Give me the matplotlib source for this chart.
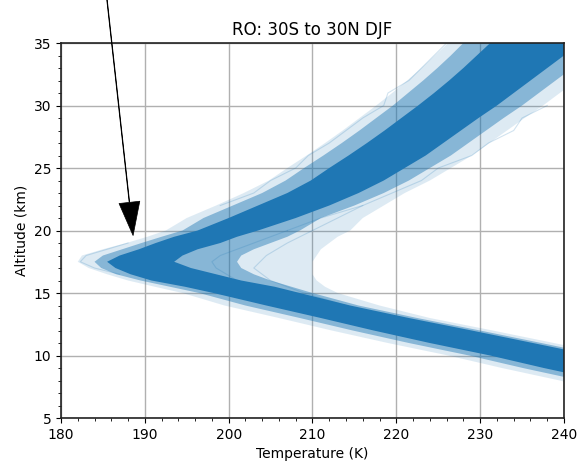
import matplotlib
matplotlib.use("Agg")
import matplotlib.pyplot as plt
from matplotlib.ticker import MultipleLocator

# altitude levels (km) and the temperature envelope of the RO profiles (K)
alt_km = [5, 6, 7, 8, 9, 10, 11, 12, 13, 14, 15, 15.5, 16, 16.5, 17, 17.5, 18, 18.5,
          19, 19.5, 20, 21, 22, 23, 24, 25, 26, 27, 28, 29, 30, 31, 32, 33, 34, 35]

faint_cold = [257, 251, 245.5, 239.5, 232.6, 226.2, 219, 212.3, 206, 199.5, 194.5, 191.2,
              188, 185.5, 183.3, 182, 182.5, 185, 187.8, 190.3, 192.5, 195, 198.5, 201.8,
              204.8, 207, 209.3, 211.5, 213.6, 215.6, 217.6, 219.5, 221.3, 223, 224.6, 226.2]
mid_cold = [259.5, 253.5, 248, 242, 235.1, 228.7, 221.5, 214.8, 208.5, 202, 196.5, 193,
            189.5, 186.6, 184.8, 184, 185, 187.3, 189.6, 192, 194.5, 197, 200.5, 204,
            206.8, 209, 211.3, 213.5, 215.6, 217.6, 219.6, 221.4, 223.2, 224.9, 226.5, 228]
dense_cold = [262, 256, 250.5, 244.5, 237.6, 231.2, 224, 217.3, 211, 204.5, 198.2, 194.8,
              190.8, 188.3, 186.5, 185.5, 187, 189.3, 191.3, 193.5, 196.3, 200, 203.5, 207,
              209.8, 212, 214.3, 216.5, 218.6, 220.6, 222.6, 224.5, 226.3, 228, 229.6, 231.2]
dense_warm = [275, 269, 262, 255, 248, 243.5, 236.3, 229, 221.5, 214.5, 208.5, 205.5,
              201.5, 198.5, 195.5, 193.5, 194.5, 196.3, 199, 201, 203.5, 208, 212, 215.5,
              218.5, 221, 223.5, 225.6, 227.7, 229.8, 232, 234, 236, 238, 240, 242]
mid_warm = [276, 270, 263, 256, 249, 244.5, 237.3, 230, 222.5, 215.5, 210, 207.5,
            205, 203, 201.5, 201, 201.5, 203, 205, 207, 208.5, 211, 215, 218.5,
            221.5, 224, 226.5, 228.6, 230.7, 232.8, 235, 237, 239, 241, 243, 245]
faint_warm = [277.5, 271.5, 264.5, 257.5, 250.5, 246, 238.8, 231.5, 224, 218, 213, 211.5,
              210.5, 210, 210, 210, 210.5, 211, 212, 213, 214.5, 216, 218.5, 221,
              224, 226.5, 229, 231.1, 233.2, 235.3, 237.5, 239.5, 241.5, 243.5, 245.5, 247.5]

# a few individual outlying profiles that stand out from the envelope
stray_alt = [
    [14, 15, 16, 17, 18, 19, 20, 21, 22],
    [15, 16, 17, 17.5, 18, 19, 20],
    [20, 21, 22, 23, 24, 25, 26, 27, 28, 29, 30],
    [22, 23, 24, 25, 26, 27, 28, 29, 30, 31, 32, 33, 34, 35],
    [16.5, 17, 17.5, 18, 18.5, 19],
]
stray_temp = [
    [214, 209, 205, 203, 204.5, 207, 210, 213, 216],
    [205, 201, 198.5, 198, 199, 203, 207],
    [207, 211, 216, 219.5, 223, 225, 229, 231, 234, 235, 238],
    [199, 203, 205, 208, 209.5, 212, 214, 216, 218.5, 219, 221.5, 223, 224.5, 226],
    [187, 184, 182.3, 183, 185.5, 188],
]

fig = plt.figure(figsize=(5.83, 4.68), dpi=100)
ax = fig.add_axes([0.1046, 0.1068, 0.8628, 0.8013])

c = '#1f77b4'
ax.fill_betweenx(alt_km, faint_cold, faint_warm, color=c, alpha=0.15, lw=0)
ax.fill_betweenx(alt_km, mid_cold, mid_warm, color=c, alpha=0.45, lw=0)
ax.fill_betweenx(alt_km, dense_cold, dense_warm, color=c, alpha=1.0, lw=0)
for z, t in zip(stray_alt, stray_temp):
    ax.plot(t, z, color=c, alpha=0.2, lw=0.8)

ax.set_xlim(180, 240)
ax.set_ylim(5, 35)
ax.xaxis.set_major_locator(MultipleLocator(10))
ax.xaxis.set_minor_locator(MultipleLocator(2))
ax.yaxis.set_major_locator(MultipleLocator(5))
ax.yaxis.set_minor_locator(MultipleLocator(1))
ax.grid(True, which='major', color='#b0b0b0', lw=1)
ax.set_axisbelow(True)
ax.tick_params(labelsize=10)
for s in ax.spines.values():
    s.set_color('#222222')
    s.set_linewidth(1.2)

ax.set_title('RO: 30S to 30N DJF', fontsize=12)
ax.set_xlabel('Temperature (K)', fontsize=10)
ax.set_ylabel('Altitude (km)', fontsize=10)

# arrow pointing at the cold point tropopause
ax.annotate('', xy=(188.6, 19.6), xytext=(185.4, 39.0), annotation_clip=False,
            arrowprops=dict(facecolor='black', edgecolor='black', width=0.4,
                            headwidth=15, headlength=24, lw=0.5, shrink=0))

plt.savefig('out.png', dpi=100)
